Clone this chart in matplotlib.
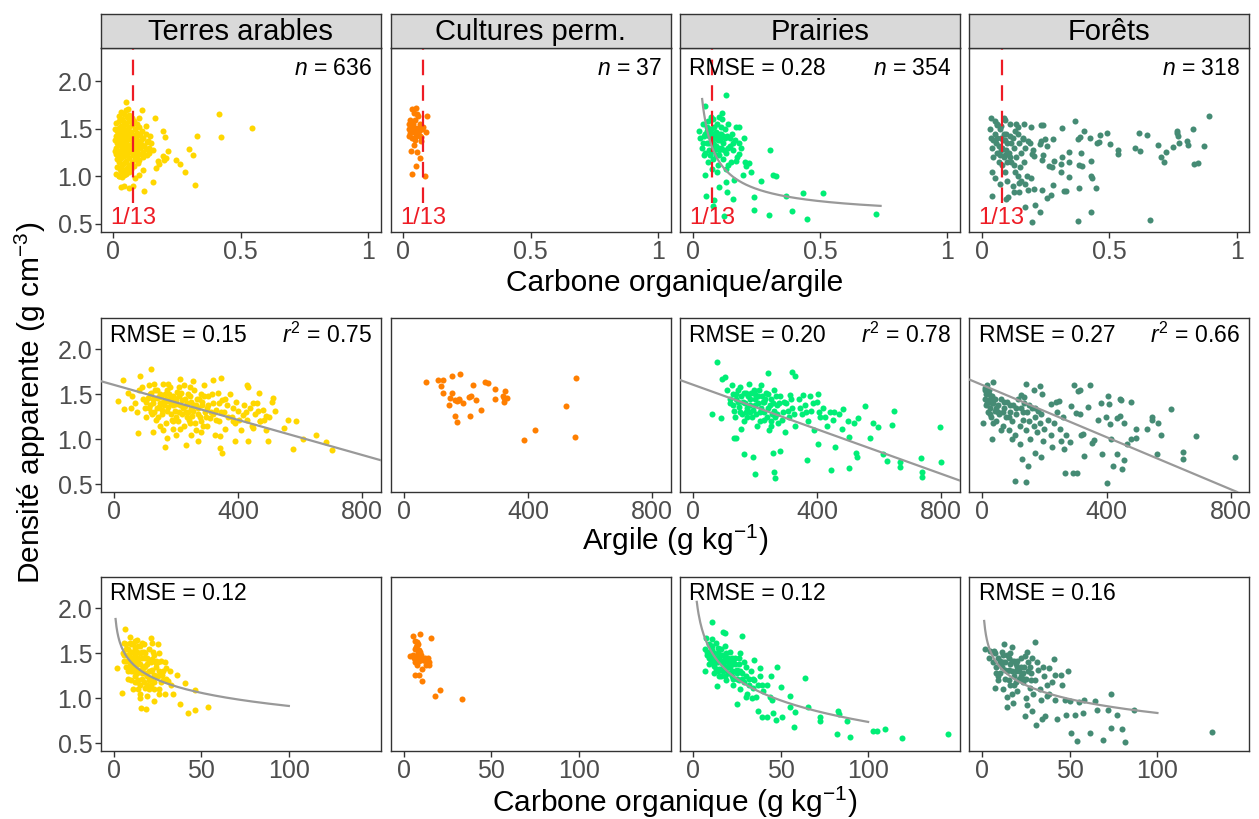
import numpy as np
import matplotlib
matplotlib.use("Agg")
import matplotlib.pyplot as plt

plt.rcParams['font.family'] = ['Liberation Sans', 'DejaVu Sans']
plt.rcParams['mathtext.fontset'] = 'custom'
plt.rcParams['mathtext.rm'] = 'Liberation Sans'
plt.rcParams['mathtext.it'] = 'Liberation Sans:italic'

# ---- data ----
uses = ["Terres arables", "Cultures perm.", "Prairies", "Forêts"]
colors = ["#FFD700", "#FF7F00", "#00EE76", "#458B74"]
n_obs = [636, 37, 354, 318]

# carbone organique/argile vs densite
arables_ratio = [
    (0.413, 1.661), (0.421, 1.419), (0.544, 1.511), (0.329, 1.423), (0.298, 1.289), (0.312, 1.226),
    (0.321, 0.911), (0.280, 1.047), (0.260, 1.128), (0.247, 1.167), (0.194, 1.475), (0.203, 1.412),
    (0.214, 1.265), (0.207, 1.191), (0.193, 1.209), (0.197, 1.170), (0.163, 1.612), (0.155, 0.939),
    (0.175, 1.160), (0.180, 1.125), (0.168, 1.089), (0.121, 0.844), (0.112, 1.693), (0.076, 0.896),
    (0.063, 0.879), (0.030, 0.889), (0.043, 0.903), (0.021, 1.009), (0.050, 1.781), (0.058, 1.711),
    (0.128, 1.528), (0.135, 1.370), (0.148, 1.353), (0.115, 1.072), (0.100, 1.019), (0.083, 0.984),
    (0.138, 1.247), (0.157, 1.282), (0.102, 1.616),
    (0.011, 1.56), (0.013, 1.48), (0.010, 1.42), (0.014, 1.35), (0.012, 1.30), (0.011, 1.24),
    (0.015, 1.18), (0.013, 1.10), (0.012, 1.03),
    (0.021, 1.64), (0.023, 1.58), (0.020, 1.51), (0.024, 1.45), (0.022, 1.39), (0.021, 1.33),
    (0.025, 1.27), (0.022, 1.21), (0.020, 1.15), (0.024, 1.08), (0.023, 1.00),
    (0.031, 1.68), (0.033, 1.60), (0.030, 1.53), (0.034, 1.47), (0.032, 1.41), (0.031, 1.36),
    (0.035, 1.30), (0.032, 1.25), (0.030, 1.19), (0.033, 1.12), (0.031, 1.06), (0.034, 0.99),
    (0.041, 1.66), (0.043, 1.57), (0.040, 1.50), (0.044, 1.44), (0.042, 1.38), (0.041, 1.32),
    (0.045, 1.27), (0.042, 1.21), (0.040, 1.14), (0.043, 1.07), (0.041, 1.01),
    (0.051, 1.70), (0.053, 1.62), (0.050, 1.55), (0.054, 1.48), (0.052, 1.42), (0.051, 1.35),
    (0.055, 1.29), (0.052, 1.23), (0.050, 1.16), (0.053, 1.09), (0.051, 1.03),
    (0.061, 1.65), (0.063, 1.58), (0.060, 1.52), (0.064, 1.45), (0.062, 1.39), (0.061, 1.33),
    (0.065, 1.26), (0.062, 1.19), (0.060, 1.12), (0.063, 1.05),
    (0.071, 1.61), (0.073, 1.54), (0.070, 1.47), (0.074, 1.40), (0.072, 1.34), (0.071, 1.28),
    (0.075, 1.22), (0.072, 1.15), (0.070, 1.08),
    (0.081, 1.58), (0.083, 1.50), (0.080, 1.43), (0.084, 1.37), (0.082, 1.31), (0.081, 1.25),
    (0.085, 1.18), (0.082, 1.11),
    (0.091, 1.55), (0.093, 1.46), (0.090, 1.39), (0.094, 1.33), (0.092, 1.27), (0.091, 1.21), (0.095, 1.14),
    (0.101, 1.52), (0.103, 1.44), (0.100, 1.36), (0.104, 1.30), (0.102, 1.24), (0.101, 1.17),
    (0.114, 1.48), (0.117, 1.40), (0.112, 1.33), (0.118, 1.26), (0.115, 1.20),
    (0.129, 1.45), (0.132, 1.36), (0.128, 1.29), (0.131, 1.22),
    (0.006, 1.50), (0.007, 1.38), (0.008, 1.27), (0.017, 1.42), (0.027, 1.35), (0.037, 1.52),
    (0.047, 1.40), (0.057, 1.30), (0.067, 1.42), (0.077, 1.35), (0.087, 1.42), (0.097, 1.30),
    (0.108, 1.38), (0.122, 1.32), (0.140, 1.30), (0.145, 1.42),
]
cultures_ratio = [
    (0.035, 1.704), (0.051, 1.718), (0.042, 1.668), (0.026, 1.598), (0.094, 1.633), (0.059, 1.640),
    (0.046, 1.598), (0.038, 1.546), (0.065, 1.546), (0.021, 1.493), (0.031, 1.486), (0.042, 1.465),
    (0.055, 1.451), (0.074, 1.493), (0.090, 1.465), (0.020, 1.423), (0.035, 1.405), (0.047, 1.381),
    (0.064, 1.423), (0.070, 1.412), (0.040, 1.335), (0.029, 1.265), (0.055, 1.254), (0.065, 1.195),
    (0.048, 1.107), (0.034, 1.030), (0.085, 1.002), (0.025, 1.451), (0.057, 1.504), (0.078, 1.521),
    (0.035, 1.528), (0.051, 1.423), (0.044, 1.511), (0.061, 1.475), (0.068, 1.370), (0.023, 1.546),
    (0.052, 1.651),
]
prairies_ratio = [
    (0.132, 1.858), (0.048, 1.739), (0.114, 1.668), (0.183, 1.521), (0.304, 1.275), (0.315, 1.019),
    (0.328, 1.009), (0.269, 0.956), (0.240, 0.781), (0.241, 0.651), (0.301, 0.595), (0.367, 0.798),
    (0.391, 0.633), (0.434, 0.826), (0.448, 0.553), (0.511, 0.826), (0.720, 0.605), (0.160, 0.767),
    (0.134, 0.837), (0.105, 0.886), (0.131, 0.939), (0.161, 0.963), (0.197, 1.012), (0.210, 1.107),
    (0.229, 1.044), (0.204, 1.156), (0.223, 1.142), (0.180, 1.240), (0.170, 1.160), (0.079, 0.686),
    (0.122, 0.588), (0.054, 0.791), (0.050, 1.019), (0.085, 0.749),
    (0.025, 1.48), (0.030, 1.40), (0.035, 1.30), (0.040, 1.55), (0.045, 1.22), (0.050, 1.45),
    (0.055, 1.35), (0.060, 1.58), (0.060, 1.15), (0.065, 1.28), (0.070, 1.50), (0.075, 1.40),
    (0.075, 1.08), (0.080, 1.60), (0.085, 1.33), (0.090, 1.22), (0.090, 1.47), (0.095, 1.55),
    (0.100, 1.38), (0.100, 1.12), (0.105, 1.28), (0.110, 1.45), (0.115, 1.60), (0.120, 1.35),
    (0.120, 1.18), (0.125, 1.50), (0.130, 1.25), (0.135, 1.42), (0.140, 1.55), (0.145, 1.32),
    (0.150, 1.15), (0.155, 1.45), (0.160, 1.28), (0.165, 1.38), (0.170, 1.52), (0.175, 1.20),
    (0.180, 1.35), (0.050, 1.25), (0.065, 1.42), (0.080, 1.18), (0.085, 1.52), (0.095, 1.05),
    (0.110, 1.30), (0.130, 1.08), (0.040, 1.35), (0.070, 1.62), (0.105, 1.62), (0.140, 1.12),
    (0.190, 1.30), (0.200, 1.40), (0.058, 1.52), (0.088, 1.40), (0.118, 1.42), (0.098, 1.30),
    (0.078, 1.27),
    (0.045, 1.42), (0.055, 1.48), (0.062, 1.35), (0.068, 1.22), (0.072, 1.45), (0.078, 1.35),
    (0.082, 1.28), (0.088, 1.46), (0.092, 1.32), (0.098, 1.42), (0.102, 1.22), (0.108, 1.38),
    (0.112, 1.52), (0.122, 1.28), (0.128, 1.40), (0.138, 1.30), (0.148, 1.40), (0.158, 1.35),
    (0.062, 1.50), (0.105, 1.45),
]
forets_ratio = [
    (0.034, 1.609), (0.087, 1.616), (0.089, 1.598), (0.057, 1.539), (0.074, 1.528), (0.135, 1.546),
    (0.166, 1.546), (0.142, 1.521), (0.192, 1.521), (0.231, 1.535), (0.238, 1.539), (0.313, 1.504),
    (0.365, 1.581), (0.402, 1.475), (0.385, 1.412), (0.378, 1.395), (0.426, 1.405), (0.464, 1.440),
    (0.491, 1.451), (0.452, 1.353), (0.461, 1.360), (0.502, 1.339), (0.616, 1.461), (0.648, 1.440),
    (0.599, 1.300), (0.621, 1.265), (0.691, 1.328), (0.724, 1.258), (0.749, 1.314), (0.766, 1.482),
    (0.767, 1.458), (0.770, 1.423), (0.774, 1.353), (0.807, 1.370), (0.809, 1.335), (0.829, 1.493),
    (0.873, 1.318), (0.892, 1.630), (0.536, 1.275), (0.536, 1.240), (0.704, 1.205), (0.713, 1.149),
    (0.832, 1.128), (0.849, 1.139), (0.280, 1.388), (0.255, 1.318), (0.247, 1.388), (0.343, 1.254),
    (0.389, 1.247), (0.313, 1.202), (0.310, 1.125), (0.310, 1.051), (0.343, 1.156), (0.380, 1.118),
    (0.391, 1.107), (0.428, 1.160), (0.428, 1.002), (0.431, 0.984), (0.447, 0.879), (0.382, 0.879),
    (0.343, 0.998), (0.323, 0.844), (0.330, 0.844), (0.280, 0.907), (0.271, 0.809), (0.257, 0.774),
    (0.205, 0.868), (0.181, 0.861), (0.234, 0.861), (0.168, 0.675), (0.209, 0.696), (0.229, 0.623),
    (0.198, 0.521), (0.378, 0.528), (0.428, 0.626), (0.660, 0.539), (0.038, 0.798), (0.093, 0.767),
    (0.102, 0.781), (0.146, 0.833), (0.126, 0.840), (0.170, 0.925), (0.152, 0.949), (0.194, 0.984),
    (0.275, 1.100), (0.264, 1.104), (0.284, 1.160), (0.234, 1.170), (0.238, 1.223), (0.205, 1.212),
    (0.196, 1.240), (0.199, 1.282), (0.227, 1.339), (0.181, 1.370), (0.189, 1.353), (0.159, 1.388),
    (0.231, 1.370),
    (0.030, 1.50), (0.035, 1.40), (0.040, 1.30), (0.045, 1.20), (0.050, 1.45), (0.055, 1.35),
    (0.060, 1.25), (0.065, 1.15), (0.070, 1.50), (0.075, 1.40), (0.080, 1.30), (0.085, 1.20),
    (0.090, 1.05), (0.095, 1.45), (0.100, 1.35), (0.105, 1.25), (0.110, 1.55), (0.115, 1.15),
    (0.120, 1.40), (0.125, 1.30), (0.130, 1.05), (0.135, 1.20), (0.140, 1.45), (0.145, 1.35),
    (0.150, 1.10), (0.155, 1.25), (0.160, 1.40), (0.165, 1.15), (0.170, 1.30), (0.175, 1.00),
    (0.040, 1.05), (0.050, 0.98), (0.060, 1.55), (0.070, 0.92), (0.080, 1.12), (0.090, 1.38),
    (0.100, 0.95), (0.110, 1.20), (0.120, 0.90), (0.130, 1.48), (0.140, 1.00), (0.060, 1.40),
    (0.085, 1.45), (0.100, 1.15), (0.115, 1.35), (0.070, 1.22), (0.095, 1.28), (0.125, 1.12),
    (0.050, 1.58), (0.145, 0.93),
    (0.045, 1.38), (0.065, 1.32), (0.075, 1.28), (0.082, 1.38), (0.092, 1.22), (0.108, 1.42),
]

# argile (g/kg) vs densite
arables_clay = [
    (14, 1.426), (32, 1.341), (30, 1.659), (78, 1.074), (84, 1.704), (121, 1.785), (166, 0.915),
    (234, 0.937), (271, 0.981), (341, 0.900), (350, 0.852), (341, 1.037), (391, 0.981), (432, 0.981),
    (497, 0.981), (432, 1.581), (429, 1.604), (468, 1.511), (513, 1.456), (561, 1.211), (588, 1.204),
    (579, 0.889), (609, 1.000), (651, 1.048), (684, 0.974), (702, 0.878), (550, 1.130), (518, 1.315),
    (320, 1.656), (346, 1.678), (255, 1.648), (212, 1.667), (491, 1.259), (448, 1.130), (384, 1.204),
    (470, 1.204),
    (45, 1.52), (60, 1.48), (70, 1.40), (55, 1.35), (80, 1.55), (75, 1.30), (95, 1.45), (90, 1.58),
    (100, 1.35), (105, 1.25), (115, 1.60), (120, 1.52), (125, 1.45), (118, 1.38), (130, 1.30),
    (140, 1.55), (145, 1.47), (150, 1.40), (135, 1.22), (155, 1.33), (160, 1.62), (148, 1.15),
    (128, 1.08), (165, 1.50), (170, 1.43), (175, 1.36), (180, 1.58), (185, 1.28), (190, 1.20),
    (195, 1.46), (200, 1.39), (205, 1.53), (210, 1.31), (215, 1.12), (220, 1.44), (172, 1.02),
    (200, 1.05), (225, 1.60), (230, 1.37), (235, 1.25), (240, 1.50), (245, 1.18), (250, 1.42),
    (255, 1.32), (260, 1.55), (265, 1.10), (270, 1.28), (275, 1.45), (280, 1.20), (285, 1.38),
    (290, 1.60), (295, 1.30), (300, 1.15), (305, 1.48), (310, 1.24), (320, 1.40), (325, 1.05),
    (330, 1.33), (335, 1.52), (340, 1.20), (350, 1.44), (355, 1.30), (360, 1.12), (365, 1.38),
    (375, 1.50), (380, 1.25), (390, 1.18), (395, 1.42), (400, 1.32), (410, 1.10), (415, 1.27),
    (420, 1.38), (430, 1.22), (440, 1.35), (445, 1.15), (455, 1.28), (460, 1.40), (470, 1.20),
    (480, 1.33), (490, 1.10), (500, 1.25), (510, 1.42), (150, 1.50), (160, 1.42), (170, 1.55),
    (180, 1.45), (190, 1.38), (210, 1.48), (230, 1.45), (250, 1.35), (140, 1.35), (120, 1.30),
    (110, 1.46), (200, 1.25), (220, 1.28), (240, 1.30), (265, 1.38), (300, 1.35), (280, 1.50),
    (320, 1.28),
    (105, 1.42), (112, 1.35), (118, 1.50), (122, 1.28), (128, 1.40), (133, 1.55), (138, 1.46),
    (142, 1.25), (147, 1.36), (152, 1.48), (157, 1.28), (162, 1.38), (167, 1.45), (168, 1.18),
    (173, 1.32), (178, 1.50), (183, 1.40), (187, 1.22), (192, 1.48), (197, 1.32), (202, 1.44),
    (207, 1.20), (212, 1.38), (217, 1.52), (222, 1.35), (227, 1.15), (232, 1.30), (237, 1.40),
    (242, 1.22), (247, 1.48), (252, 1.26), (257, 1.38), (262, 1.18), (268, 1.45), (272, 1.35),
    (278, 1.25), (283, 1.42), (288, 1.15), (292, 1.48), (298, 1.25), (303, 1.38), (312, 1.30),
    (318, 1.50), (328, 1.22), (338, 1.40), (345, 1.30), (358, 1.45), (368, 1.25), (385, 1.35),
    (405, 1.22), (425, 1.30), (450, 1.40), (465, 1.32), (485, 1.22), (160, 1.10), (190, 1.12),
    (250, 1.05), (280, 1.08), (130, 1.62), (175, 1.62), (210, 1.58), (245, 1.58),
]
cultures_clay = [
    (71, 1.633), (110, 1.659), (126, 1.659), (155, 1.704), (182, 1.722), (223, 1.604), (263, 1.641),
    (272, 1.630), (294, 1.563), (326, 1.541), (126, 1.511), (156, 1.511), (149, 1.463), (164, 1.441),
    (177, 1.452), (173, 1.422), (192, 1.400), (211, 1.470), (217, 1.478), (233, 1.441), (295, 1.452),
    (321, 1.485), (323, 1.456), (332, 1.463), (322, 1.415), (145, 1.378), (249, 1.330), (165, 1.259),
    (212, 1.259), (170, 1.189), (388, 0.996), (423, 1.100), (523, 1.370), (554, 1.681), (552, 1.030),
    (178, 1.433), (119, 1.596),
]
prairies_clay = [
    (78, 1.863), (102, 1.693), (92, 1.674), (243, 1.733), (320, 1.748), (329, 1.704), (60, 1.278),
    (89, 1.233), (131, 1.019), (139, 1.019), (164, 0.833), (192, 0.807), (201, 0.611), (261, 0.637),
    (265, 0.567), (259, 0.844), (281, 0.870), (366, 0.767), (446, 0.656), (502, 0.685), (524, 0.852),
    (529, 0.807), (553, 1.367), (595, 1.141), (611, 0.833), (625, 0.759), (646, 1.315), (640, 1.156),
    (668, 0.752), (668, 0.693), (734, 0.789), (736, 0.641), (737, 0.581), (796, 1.141), (798, 0.748),
    (483, 1.333), (533, 1.241), (581, 1.185), (569, 1.019), (502, 1.030), (456, 0.919), (403, 0.944),
    (403, 1.500), (355, 1.489), (313, 1.493), (377, 1.481),
    (110, 1.55), (120, 1.45), (130, 1.38), (125, 1.60), (140, 1.50), (150, 1.30), (150, 1.58),
    (160, 1.42), (165, 1.20), (170, 1.52), (175, 1.35), (180, 1.62), (185, 1.45), (190, 1.25),
    (195, 1.55), (200, 1.38), (205, 1.15), (210, 1.48), (215, 1.30), (220, 1.60), (225, 1.42),
    (230, 1.22), (235, 1.52), (240, 1.35), (245, 1.10), (250, 1.45), (255, 1.28), (260, 1.55),
    (270, 1.38), (275, 1.18), (280, 1.48), (290, 1.30), (295, 1.08), (300, 1.40), (310, 1.25),
    (320, 1.35), (330, 1.15), (340, 1.45), (350, 1.28), (360, 1.38), (370, 1.20), (380, 1.32),
    (390, 1.10), (400, 1.42), (410, 1.25), (420, 1.35), (430, 1.15), (440, 1.30), (450, 1.22),
    (470, 1.28), (480, 1.12), (500, 1.20), (520, 1.18), (135, 1.25), (155, 1.12), (185, 1.30),
    (200, 1.50), (230, 1.42), (265, 1.25), (145, 1.42),
    (120, 1.40), (128, 1.50), (132, 1.32), (138, 1.45), (145, 1.55), (148, 1.36), (155, 1.48),
    (158, 1.28), (163, 1.52), (168, 1.40), (172, 1.30), (178, 1.48), (182, 1.38), (188, 1.52),
    (192, 1.33), (198, 1.45), (203, 1.28), (208, 1.40), (212, 1.55), (218, 1.35), (222, 1.48),
    (228, 1.30), (232, 1.45), (238, 1.25), (242, 1.50), (248, 1.38), (252, 1.20), (258, 1.40),
    (262, 1.32), (268, 1.48), (272, 1.28), (278, 1.40), (285, 1.22), (292, 1.42), (305, 1.32),
    (315, 1.45), (325, 1.28), (345, 1.35), (365, 1.30), (385, 1.40), (405, 1.30), (425, 1.25),
    (455, 1.30), (175, 1.25), (215, 1.20), (250, 1.15),
]
forets_clay = [
    (35, 1.637), (9, 1.574), (14, 1.519), (140, 1.611), (165, 1.544), (185, 1.589), (192, 1.500),
    (126, 1.489), (133, 1.470), (296, 1.604), (309, 1.537), (316, 1.544), (347, 1.604), (405, 1.481),
    (446, 1.437), (443, 1.444), (478, 1.419), (248, 1.426), (236, 1.419), (222, 1.396), (286, 1.370),
    (339, 1.359), (382, 1.407), (409, 1.396), (443, 1.259), (435, 1.241), (398, 1.248), (373, 1.211),
    (316, 1.278), (303, 1.296), (609, 1.333), (547, 1.248), (548, 1.219), (566, 1.178), (529, 1.111),
    (576, 1.048), (494, 1.111), (494, 1.019), (689, 1.033), (563, 0.833), (648, 0.859), (646, 0.778),
    (815, 0.804), (403, 0.519), (142, 0.530), (105, 0.537), (265, 0.622), (291, 0.622), (305, 0.630),
    (422, 0.704), (451, 0.667), (456, 0.767), (435, 0.833), (384, 0.841), (329, 0.815), (262, 0.889),
    (190, 0.804), (171, 0.844), (147, 0.704), (129, 0.778), (225, 0.915), (254, 0.981), (361, 0.989),
    (353, 0.963), (318, 1.048), (323, 1.063), (414, 1.007), (467, 0.944), (478, 1.007), (284, 0.970),
    (412, 1.167), (456, 1.178), (30, 1.000), (3, 1.185),
    (10, 1.45), (12, 1.38), (15, 1.52), (18, 1.30), (20, 1.42), (22, 1.55), (25, 1.35), (28, 1.25),
    (30, 1.48), (35, 1.40), (40, 1.32), (45, 1.20), (50, 1.38), (55, 1.28), (60, 1.45), (65, 1.15),
    (70, 1.35), (75, 1.25), (80, 1.42), (85, 1.10), (90, 1.30), (95, 1.20), (100, 1.38), (105, 1.05),
    (110, 1.28), (115, 1.45), (120, 1.15), (125, 1.35), (130, 1.22), (135, 1.40), (140, 1.10),
    (145, 1.30), (150, 1.20), (155, 1.00), (160, 1.35), (165, 1.15), (170, 1.25), (175, 1.08),
    (180, 1.32), (185, 1.18), (190, 1.28), (195, 0.98), (200, 1.12), (210, 1.22), (220, 1.05),
    (230, 1.18), (240, 1.30), (250, 1.12), (260, 1.25), (270, 1.05), (8, 1.55), (12, 1.50),
    (16, 1.60), (25, 1.28), (35, 1.18), (60, 1.10), (95, 1.00), (120, 0.95),
    (20, 1.50), (30, 1.40), (40, 1.45), (50, 1.30), (70, 1.42), (90, 1.38), (110, 1.35), (130, 1.30),
    (150, 1.38), (170, 1.35), (15, 1.40), (25, 1.45), (45, 1.35), (65, 1.30), (85, 1.25),
]

# carbone organique (g/kg) vs densite
arables_oc = [
    (1.9, 1.337), (4.9, 1.064), (6.3, 1.771), (15.4, 0.894), (18.6, 0.887), (14.8, 1.005), (22.8, 0.975),
    (25.9, 1.108), (25.3, 1.606), (22.4, 1.513), (21.5, 1.676), (29.5, 1.049), (33.8, 1.049), (36.1, 1.263),
    (37.6, 0.938), (40.9, 1.171), (42.4, 0.839), (46.6, 1.090), (46.6, 0.876), (53.8, 0.905), (27.8, 1.255),
    (31.0, 1.189), (32.9, 1.145), (30.0, 1.337), (24.3, 1.392),
    (6, 1.62), (7, 1.55), (8, 1.48), (6, 1.42), (9, 1.68), (10, 1.60), (9, 1.38), (11, 1.52), (12, 1.45),
    (10, 1.30), (13, 1.65), (14, 1.58), (12, 1.25), (15, 1.50), (14, 1.40), (16, 1.33), (13, 1.18),
    (17, 1.60), (18, 1.45), (16, 1.22), (19, 1.38), (20, 1.55), (18, 1.12), (21, 1.30), (22, 1.44),
    (20, 1.20), (23, 1.10), (24, 1.35), (25, 1.25), (26, 1.50), (27, 1.18), (28, 1.30), (11, 1.10),
    (15, 1.05), (8, 1.22), (7, 1.35), (19, 1.03), (22, 1.62), (17, 1.28), (24, 1.42), (30, 1.22),
    (29, 1.40), (32, 1.30), (26, 1.05), (11, 1.40), (12, 1.56), (14, 1.32), (16, 1.45), (18, 1.36),
    (20, 1.42), (9, 1.50), (13, 1.38), (15, 1.15), (21, 1.15), (23, 1.26), (5, 1.50), (10, 1.45),
    (17, 1.52), (12, 1.35), (19, 1.25),
    (6, 1.48), (7, 1.60), (7, 1.42), (8, 1.55), (8, 1.30), (9, 1.44), (9, 1.62), (10, 1.35), (10, 1.52),
    (11, 1.60), (11, 1.30), (12, 1.48), (12, 1.18), (13, 1.52), (13, 1.28), (14, 1.45), (14, 1.20),
    (15, 1.38), (15, 1.58), (16, 1.28), (16, 1.52), (17, 1.35), (17, 1.18), (18, 1.50), (18, 1.28),
    (19, 1.45), (19, 1.15), (20, 1.30), (21, 1.40), (21, 1.22), (22, 1.32), (23, 1.48), (23, 1.18),
    (24, 1.25), (25, 1.40), (26, 1.30), (27, 1.42), (28, 1.20), (10, 1.20), (12, 1.64), (14, 1.10),
    (16, 1.62), (20, 1.10),
]
cultures_oc = [
    (5.1, 1.698), (9.3, 1.716), (15.5, 1.676), (6.6, 1.642), (7.6, 1.624), (8.3, 1.606), (6.4, 1.554),
    (8.5, 1.536), (9.3, 1.513), (3.8, 1.477), (5.5, 1.484), (7.0, 1.454), (8.3, 1.466), (9.5, 1.440),
    (11.0, 1.429), (12.1, 1.454), (13.6, 1.454), (14.2, 1.410), (13.3, 1.392), (11.7, 1.429), (6.1, 1.410),
    (7.4, 1.373), (10.6, 1.329), (6.4, 1.255), (8.9, 1.255), (10.6, 1.189), (20.6, 1.097), (18.0, 1.027),
    (33.0, 0.997), (8.0, 1.502), (9.8, 1.484), (7.6, 1.595), (5.7, 1.447), (12.7, 1.373), (14.6, 1.366),
    (6.8, 1.576), (8.7, 1.418),
]
prairies_oc = [
    (11.0, 1.853), (17.1, 1.735), (18.3, 1.724), (28.2, 1.694), (7.2, 1.676), (10.7, 1.661), (34.5, 1.429),
    (38.1, 1.337), (47.8, 1.348), (64.0, 1.226), (44.6, 1.244), (39.6, 1.145), (50.1, 1.126), (55.2, 1.023),
    (65.9, 0.905), (72.4, 0.791), (72.4, 0.747), (82.5, 0.857), (83.4, 0.828), (87.8, 0.747), (82.1, 0.599),
    (89.5, 0.574), (102.5, 0.636), (104.8, 0.636), (109.5, 0.655), (119.6, 0.555), (145.9, 0.607),
    (58.3, 0.846), (57.9, 0.684), (50.5, 0.795), (47.2, 0.758), (45.7, 0.839), (39.6, 0.795), (42.1, 0.795),
    (36.8, 0.857), (25.3, 0.942), (30.1, 1.016), (33.9, 1.005), (45.0, 0.986), (55.2, 0.902), (6.9, 1.300),
    (13.9, 1.141),
    (7, 1.55), (8, 1.48), (9, 1.60), (10, 1.52), (10, 1.42), (11, 1.58), (12, 1.45), (12, 1.36), (13, 1.62),
    (14, 1.50), (14, 1.30), (15, 1.55), (16, 1.40), (16, 1.25), (17, 1.48), (18, 1.33), (18, 1.58),
    (19, 1.20), (20, 1.45), (21, 1.28), (21, 1.52), (22, 1.38), (23, 1.15), (24, 1.30), (24, 1.45),
    (25, 1.22), (26, 1.38), (27, 1.10), (27, 1.50), (28, 1.28), (29, 1.18), (30, 1.35), (31, 1.05),
    (32, 1.22), (33, 1.30), (34, 1.12), (35, 1.20), (36, 1.02), (37, 1.15), (38, 1.25), (40, 1.08),
    (42, 1.15), (44, 1.02), (13, 1.40), (15, 1.33), (17, 1.38), (19, 1.42), (20, 1.35), (22, 1.25),
    (11, 1.47), (9, 1.38), (25, 1.32), (12, 1.28), (16, 1.55), (23, 1.42),
    (8, 1.52), (9, 1.45), (10, 1.58), (11, 1.40), (11, 1.54), (12, 1.50), (13, 1.45), (13, 1.33),
    (14, 1.56), (14, 1.40), (15, 1.45), (15, 1.25), (16, 1.48), (16, 1.33), (17, 1.42), (17, 1.30),
    (18, 1.45), (18, 1.25), (19, 1.35), (19, 1.50), (20, 1.28), (20, 1.40), (21, 1.35), (22, 1.30),
    (22, 1.45), (23, 1.22), (24, 1.38), (25, 1.28), (26, 1.20), (27, 1.30), (28, 1.22), (30, 1.25),
    (32, 1.15), (34, 1.22), (26, 1.45), (29, 1.40),
]
forets_oc = [
    (12.6, 1.602), (30.1, 1.624), (17.1, 1.576), (1.5, 1.550), (4.4, 1.528), (6.7, 1.532), (25.3, 1.521),
    (24.4, 1.466), (28.6, 1.447), (41.1, 1.436), (48.8, 1.300), (34.5, 1.344), (38.3, 1.337), (41.5, 1.255),
    (45.0, 1.255), (45.3, 1.152), (39.6, 1.182), (73.3, 1.053), (64.4, 0.975), (58.1, 0.986), (54.9, 0.961),
    (57.7, 0.839), (53.0, 0.813), (47.8, 0.820), (42.5, 0.773), (35.8, 0.802), (34.3, 0.776), (30.7, 0.699),
    (24.4, 0.802), (28.6, 0.857), (65.7, 0.876), (71.6, 0.876), (76.8, 0.820), (86.7, 0.876), (50.7, 0.618),
    (54.3, 0.526), (61.5, 0.618), (68.8, 0.533), (73.3, 0.673), (80.0, 0.655), (81.5, 0.518), (131.4, 0.629),
    (13.9, 0.905), (17.7, 0.949), (6.9, 1.115), (8.8, 1.244), (25.3, 0.931), (33.5, 0.979), (36.8, 1.023),
    (41.5, 0.986), (47.2, 0.986), (50.1, 0.968),
    (4, 1.45), (6, 1.40), (7, 1.50), (8, 1.35), (9, 1.45), (10, 1.28), (11, 1.52), (12, 1.40), (13, 1.22),
    (14, 1.48), (15, 1.32), (16, 1.15), (17, 1.42), (18, 1.25), (19, 1.38), (20, 1.08), (21, 1.30),
    (22, 1.45), (23, 1.18), (24, 1.35), (25, 1.22), (26, 1.40), (27, 1.12), (28, 1.28), (29, 1.05),
    (30, 1.20), (32, 1.32), (33, 1.10), (35, 1.25), (37, 1.15), (38, 1.05), (12, 1.10), (14, 1.02),
    (10, 1.38), (16, 1.50), (19, 1.18), (22, 1.25), (9, 1.20), (17, 1.05), (25, 1.00), (13, 1.32),
    (20, 1.42), (27, 1.35), (8, 1.28), (31, 1.40),
    (10, 1.42), (11, 1.35), (12, 1.48), (13, 1.40), (14, 1.30), (15, 1.45), (16, 1.38), (17, 1.30),
    (18, 1.42), (19, 1.30), (20, 1.35), (21, 1.22), (22, 1.35), (23, 1.28), (24, 1.22), (26, 1.30),
    (28, 1.20), (15, 1.20), (18, 1.15),
]

rows_data = [
    [arables_ratio, cultures_ratio, prairies_ratio, forets_ratio],
    [arables_clay, cultures_clay, prairies_clay, forets_clay],
    [arables_oc, cultures_oc, prairies_oc, forets_oc],
]

# fitted models (coefficients)
ratio_fit = [None, None, (0.532, 0.1275, -0.7, 0.037, 0.738), None]     # a + b*x^c
clay_fit = [(1.607, -0.000975), None, (1.608, -0.00124), (1.605, -0.00145)]  # a + b*x
oc_fit = [(1.883, -0.21, 1, 100), None, (2.330, -0.3456, 2.1, 100), (1.861, -0.2222, 1, 100)]  # a + b*ln(x)

rmse_ratio = [None, None, "0.28", None]
rmse_clay = ["0.15", None, "0.20", "0.27"]
r2_clay = ["0.75", None, "0.78", "0.66"]
rmse_oc = ["0.12", None, "0.12", "0.16"]

threshold = 1 / 13

# ---- layout (pixels of a 1259x819 figure) ----
W, H = 1259, 819
fig = plt.figure(figsize=(W / 100, H / 100), dpi=100)

col_left = [100.7, 390.7, 680, 969.3]
col_w = 280
row_top = [48, 318, 577]
row_bot = [232, 492, 751]
strip_top = 14

xlims = [(-0.05, 1.05), (-42, 860), (-7.5, 152.5)]
xticks = [[0, 0.5, 1], [0, 400, 800], [0, 50, 100]]
xticklabels = [["0", "0.5", "1"], ["0", "400", "800"], ["0", "50", "100"]]
ylim = (0.415, 2.35)

border = "#333333"
tick_col = "#4D4D4D"
fit_col = "#999999"


def px_box(left, top, w, h):
    return [left / W, 1 - (top + h) / H, w / W, h / H]


for r in range(3):
    for c in range(4):
        ax = fig.add_axes(px_box(col_left[c], row_top[r], col_w, row_bot[r] - row_top[r]))
        pts = np.array(rows_data[r][c])
        ax.scatter(pts[:, 0], pts[:, 1], s=19, color=colors[c], linewidths=0, zorder=2)

        ax.set_xlim(*xlims[r])
        ax.set_ylim(*ylim)
        ax.set_xticks(xticks[r])
        ax.set_xticklabels(xticklabels[r])
        ax.set_yticks([0.5, 1.0, 1.5, 2.0])
        if c == 0:
            ax.set_yticklabels(["0.5", "1.0", "1.5", "2.0"])
            ax.tick_params(axis='y', length=4, width=1, color=border, labelsize=18,
                           labelcolor=tick_col, pad=2)
        else:
            ax.tick_params(axis='y', left=False, labelleft=False)
        ax.tick_params(axis='x', length=4, width=1, color=border, labelsize=18,
                       labelcolor=tick_col, pad=2)
        for sp in ax.spines.values():
            sp.set_color(border)
            sp.set_linewidth(1.0)

        if r == 0:
            ax.axvline(threshold, ymin=(0.72 - ylim[0]) / (ylim[1] - ylim[0]), ymax=1,
                       color="#EE1C25", lw=1.6, dashes=(7, 4.5), zorder=3)
            ax.text(threshold, 0.56, "1/13", color="#EE1C25", fontsize=17,
                    ha="center", va="center", zorder=4)
            ax.text(0.968, 0.89, "$n$ = %d" % n_obs[c], transform=ax.transAxes,
                    ha="right", va="center", fontsize=16.5)
            if ratio_fit[c] is not None:
                a, b, e, x0, x1 = ratio_fit[c]
                xs = np.linspace(x0, x1, 200)
                ax.plot(xs, a + b * xs ** e, color=fit_col, lw=1.6, zorder=3)
            if rmse_ratio[c] is not None:
                ax.text(0.033, 0.89, "RMSE = " + rmse_ratio[c], transform=ax.transAxes,
                        ha="left", va="center", fontsize=16.5)
        elif r == 1:
            if clay_fit[c] is not None:
                a, b = clay_fit[c]
                ax.axline((0, a), slope=b, color=fit_col, lw=1.6, zorder=3)
            if rmse_clay[c] is not None:
                ax.text(0.033, 0.9, "RMSE = " + rmse_clay[c], transform=ax.transAxes,
                        ha="left", va="center", fontsize=16.5)
                ax.text(0.968, 0.9, "$r^2$ = " + r2_clay[c], transform=ax.transAxes,
                        ha="right", va="center", fontsize=16.5)
        else:
            if oc_fit[c] is not None:
                a, b, x0, x1 = oc_fit[c]
                xs = np.linspace(x0, x1, 200)
                ax.plot(xs, a + b * np.log(xs), color=fit_col, lw=1.6, zorder=3)
            if rmse_oc[c] is not None:
                ax.text(0.033, 0.905, "RMSE = " + rmse_oc[c], transform=ax.transAxes,
                        ha="left", va="center", fontsize=16.5)

# facet strips
for c in range(4):
    sax = fig.add_axes(px_box(col_left[c], strip_top, col_w, row_top[0] - strip_top))
    sax.set_facecolor("#D9D9D9")
    sax.set_xticks([])
    sax.set_yticks([])
    for sp in sax.spines.values():
        sp.set_color(border)
        sp.set_linewidth(1.0)
    sax.text(0.5, 0.47, uses[c], transform=sax.transAxes, ha="center", va="center", fontsize=21)

# axis titles
xc = (col_left[0] + col_left[3] + col_w) / 2 / W
fig.text(xc, 1 - 283 / H, "Carbone organique/argile", ha="center", va="center", fontsize=21.5)
fig.text(xc, 1 - 540 / H, "Argile (g kg$^{-1}$)", ha="center", va="center", fontsize=21.5)
fig.text(xc, 1 - 802 / H, "Carbone organique (g kg$^{-1}$)", ha="center", va="center", fontsize=21.5)
fig.text(30 / W, 1 - 403 / H, "Densité apparente (g cm$^{-3}$)", ha="center", va="center",
         rotation=90, fontsize=21.5)

fig.savefig("out.png", dpi=100)
